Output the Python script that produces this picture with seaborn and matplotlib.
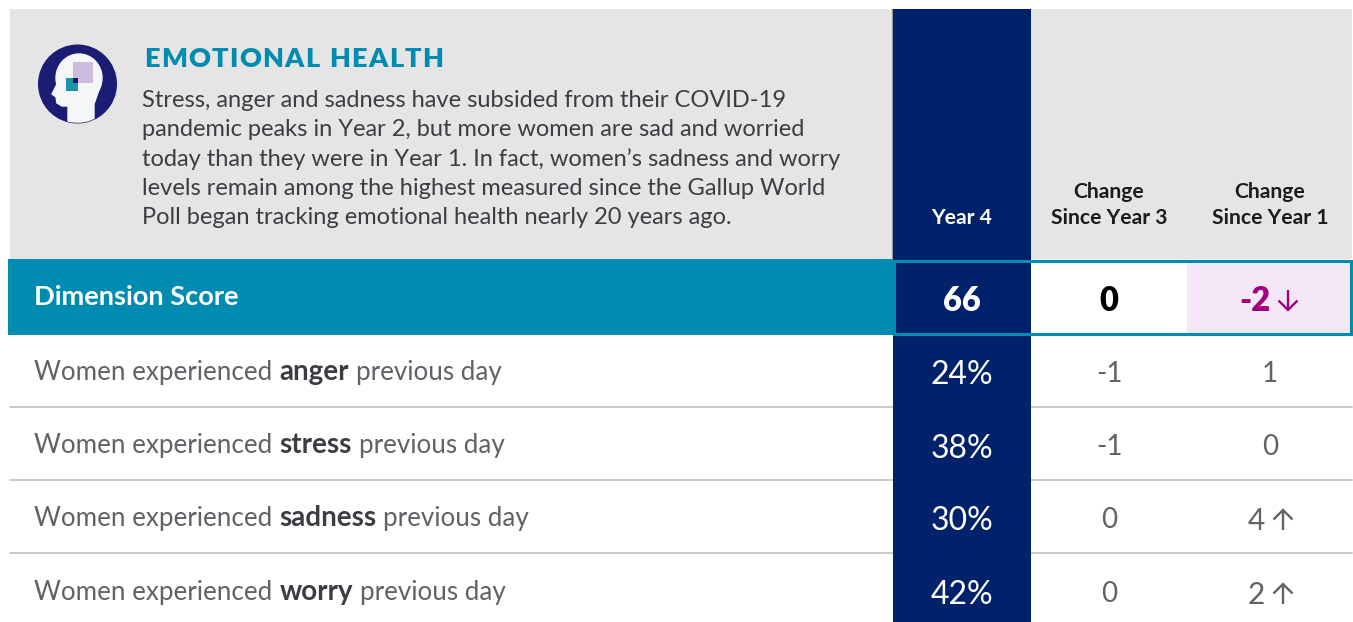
import matplotlib
matplotlib.use('Agg')
import matplotlib.pyplot as plt
import matplotlib.patches as mpatches
from matplotlib.colors import ListedColormap
import numpy as np
import pandas as pd
import seaborn as sns

title = 'EMOTIONAL HEALTH'
intro_lines = [
    'Stress, anger and sadness have subsided from their COVID-19',
    'pandemic peaks in Year 2, but more women are sad and worried',
    'today than they were in Year 1. In fact, women\u2019s sadness and worry',
    'levels remain among the highest measured since the Gallup World',
    'Poll began tracking emotional health nearly 20 years ago.',
]
emotions = ['anger', 'stress', 'sadness', 'worry']
year4 = [24, 38, 30, 42]
since_y3 = [-1, -1, 0, 0]
since_y1 = [1, 0, 4, 2]
arrows_y1 = [False, False, True, True]
score_label = 'Dimension Score'
score_year4 = 66
score_y3 = 0
score_y1 = -2

GRAY = '#e5e5e6'
TEAL = '#008bb0'
NAVY = '#00226b'
PINK = '#f4e8f6'
MAGENTA = '#a3007f'
DARK = '#3a3d42'
MID = '#5f6266'

sns.set_theme(style='white')
plt.rcParams['font.family'] = ['Lato', 'DejaVu Sans']

W, H = 1353, 622
fig = plt.figure(figsize=(W / 100, H / 100), dpi=100, facecolor='white')
ax = fig.add_axes([0, 0, 1, 1])
ax.set_xlim(0, W)
ax.set_ylim(H, 0)
ax.axis('off')
renderer = fig.canvas.get_renderer()


def rect(x0, y0, x1, y1, **kw):
    ax.add_patch(mpatches.Rectangle((x0, y0), x1 - x0, y1 - y0, linewidth=kw.pop('lw', 0), **kw))


def text_width(s, **kw):
    t = ax.text(0, 0, s, **kw)
    w = t.get_window_extent(renderer).width
    t.remove()
    return w


def draw_run(x, y, s, tracking=0, **kw):
    # one string at a time so that bold runs and letter spacing line up
    if tracking:
        for ch in s:
            ax.text(x, y, ch, va='baseline', ha='left', **kw)
            x += (6.5 if ch == ' ' else text_width(ch, **kw)) + tracking
        return x
    ax.text(x, y, s, va='baseline', ha='left', **kw)
    return x + text_width(s, **kw)


def arrow(x, y, up=True, color=MID, lw=1.7, size=10):
    d = -1 if up else 1
    ax.plot([x, x], [y - d * size, y + d * size], color=color, lw=lw, solid_capstyle='butt')
    ax.plot([x - size * 0.95, x, x + size * 0.95], [y + d * size * 0.05, y + d * size, y + d * size * 0.05],
            color=color, lw=lw, solid_joinstyle='miter', solid_capstyle='butt')


# header and bands
rect(10, 9, 1352, 259, color=GRAY, zorder=0)
rect(8, 259, 893, 335, color=TEAL, zorder=1)
rect(1187, 262, 1350, 333, color=PINK, zorder=1)
rect(893, 9, 1031, 345, color=NAVY, zorder=2)
ax.plot([892, 892], [9, 259], color='#9a9a9c', lw=1, zorder=1)
rect(893.5, 260.5, 1351, 333.5, facecolor='none', edgecolor=TEAL, lw=2.2, zorder=3)

for yl in [407, 480, 553]:
    ax.plot([10, 1352], [yl, yl], color='#c4c4c6', lw=1.3, zorder=1)

# icon
disc = mpatches.Circle((77.5, 84), 38.8, color='#1a1d73', zorder=2)
ax.add_patch(disc)
skull = mpatches.Ellipse((79, 78), 46, 48, color='#f5f6f8', zorder=3)
ax.add_patch(skull)
neck = [(57, 84), (52, 94), (56, 97), (57, 103), (62, 106), (68, 106), (68, 125), (94, 125), (94, 104), (101, 84)]
neck_patch = mpatches.Polygon(neck, closed=True, color='#f5f6f8', zorder=3)
ax.add_patch(neck_patch)
neck_patch.set_clip_path(disc)
rect(73, 62, 93, 83, color='#cbbbdd', zorder=4)
rect(66, 78, 78, 91, color='#1f93a8', zorder=5)
rect(73, 78, 78, 83, color='#15185f', zorder=6)

# header text
draw_run(144, 67, title, tracking=1.35, fontsize=19.5, fontweight='heavy', color=TEAL)
for line, yb in zip(intro_lines, [107, 136, 166, 195, 224]):
    ax.text(142, yb, line, fontsize=17.0, color=DARK, va='baseline', ha='left')

head_kw = dict(fontsize=15.2, fontweight='bold', ha='center', va='baseline')
ax.text(962, 224, 'Year 4', color='white', zorder=4, **head_kw)
ax.text(1109, 198, 'Change', color='#1c1c1c', **head_kw)
ax.text(1109, 224, 'Since Year 3', color='#1c1c1c', **head_kw)
ax.text(1270, 198, 'Change', color='#1c1c1c', **head_kw)
ax.text(1270, 224, 'Since Year 1', color='#1c1c1c', **head_kw)

# dimension score row
draw_run(34, 305, score_label, fontsize=19.6, fontweight='bold', color='white', zorder=4)
num_kw = dict(fontsize=23.5, fontweight='heavy', ha='center', va='baseline', zorder=4)
ax.text(962, 311, str(score_year4), color='white', **num_kw)
ax.text(1109, 311, str(score_y3), color='black', **num_kw)
ax.text(1255, 311, str(score_y1), color=MAGENTA, **num_kw)
arrow(1288, 300, up=False, color=MAGENTA)

# metric rows
baselines = [380, 453, 526, 600]
for i, emotion in enumerate(emotions):
    yb = baselines[i]
    x = draw_run(34, yb, 'Women experienced', fontsize=18.75, color=MID)
    x = draw_run(x + 7, yb, emotion, fontsize=20, fontweight='bold', color=DARK)
    draw_run(x + 7, yb, 'previous day', fontsize=18.75, color=MID)

    ax.text(1109, yb + 2, str(since_y3[i]), fontsize=20, color=MID, ha='center', va='baseline')
    if arrows_y1[i]:
        ax.text(1256, yb + 4, str(since_y1[i]), fontsize=21.5, color=MID, ha='center', va='baseline')
        arrow(1283, yb - 6, up=True)
    else:
        ax.text(1270, yb + 2, str(since_y1[i]), fontsize=20, color=MID, ha='center', va='baseline')

# Year 4 column
df = pd.DataFrame({'Year 4': year4}, index=emotions)
labels = np.array([[f'{v}%'] for v in year4])
hax = fig.add_axes([893 / W, 1 - 631 / H, 138 / W, 292 / H])
sns.heatmap(df, ax=hax, cmap=ListedColormap([NAVY]), cbar=False, annot=labels, fmt='', linewidths=0,
            annot_kws={'fontsize': 23, 'color': 'white'}, xticklabels=False, yticklabels=False)
hax.set_xlabel('')
hax.set_ylabel('')

fig.savefig('out.png', dpi=100)
